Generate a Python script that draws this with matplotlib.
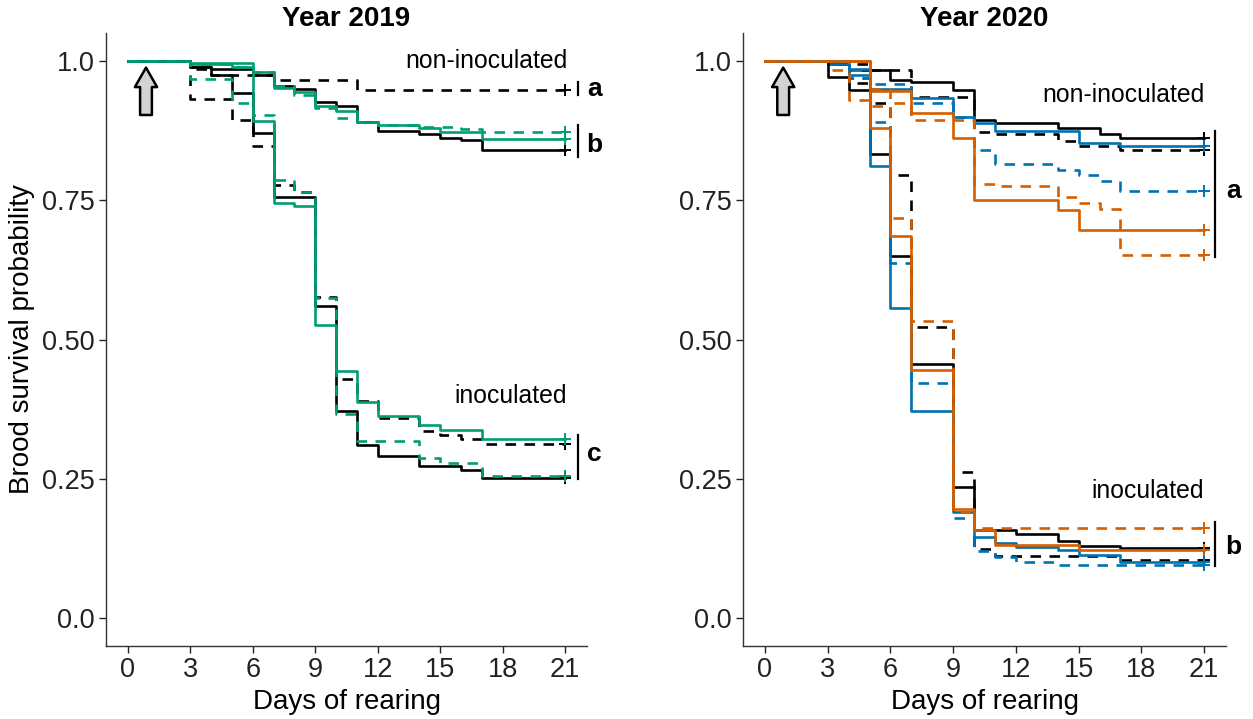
import matplotlib
matplotlib.use("Agg")
from matplotlib import pyplot as plt

plt.rcParams['font.family'] = ['Liberation Sans', 'DejaVu Sans']

# cores dos grupos
BLACK = '#000000'
GREEN = '#009E73'
BLUE = '#0072B2'
ORANGE = '#D55E00'

#-Ano 2019---------------------------------------------------------------
# nao inoculados: (dia, sobrevivencia)
ni19_black = [(0, 1.0), (3, 0.99), (4, 0.985), (6, 0.975), (7, 0.955), (8, 0.95), (9, 0.926),
              (10, 0.92), (11, 0.891), (12, 0.874), (14, 0.868), (15, 0.862), (16, 0.858),
              (17, 0.84), (21, 0.84)]
ni19_black_d = [(0, 1.0), (3, 0.985), (4, 0.975), (7, 0.966), (11, 0.947), (21, 0.947)]
ni19_green = [(0, 1.0), (3, 0.995), (5, 0.99), (6, 0.98), (7, 0.952), (8, 0.945), (9, 0.92),
              (10, 0.91), (11, 0.89), (12, 0.885), (14, 0.88), (15, 0.872), (17, 0.86), (21, 0.86)]
ni19_green_d = [(0, 1.0), (3, 0.995), (5, 0.99), (6, 0.98), (7, 0.955), (8, 0.938), (9, 0.915),
                (10, 0.897), (11, 0.89), (12, 0.885), (14, 0.882), (16, 0.878), (17, 0.872), (21, 0.872)]
# inoculados
in19_black = [(0, 1.0), (3, 0.99), (4, 0.975), (5, 0.942), (6, 0.87), (7, 0.755), (9, 0.56),
              (10, 0.372), (11, 0.311), (12, 0.291), (14, 0.273), (16, 0.265), (17, 0.251), (21, 0.251)]
in19_black_d = [(0, 1.0), (3, 0.932), (5, 0.894), (6, 0.847), (7, 0.778), (8, 0.765), (9, 0.577),
                (10, 0.43), (11, 0.39), (12, 0.36), (14, 0.335), (15, 0.328), (16, 0.321),
                (17, 0.313), (21, 0.313)]
in19_green = [(0, 1.0), (3, 0.997), (6, 0.893), (7, 0.745), (8, 0.739), (9, 0.527), (10, 0.444),
              (11, 0.388), (12, 0.362), (14, 0.347), (15, 0.337), (17, 0.322), (21, 0.322)]
in19_green_d = [(0, 1.0), (3, 0.968), (5, 0.925), (6, 0.903), (7, 0.787), (8, 0.764), (9, 0.575),
                (10, 0.367), (11, 0.318), (14, 0.287), (15, 0.279), (17, 0.256), (21, 0.256)]

#-Ano 2020---------------------------------------------------------------
ni20_black = [(0, 1.0), (3, 0.995), (4, 0.983), (6, 0.966), (7, 0.962), (9, 0.948), (10, 0.894),
              (11, 0.888), (14, 0.879), (16, 0.868), (17, 0.862), (21, 0.862)]
ni20_black_d = [(0, 1.0), (3, 0.995), (5, 0.983), (7, 0.935), (10, 0.872), (11, 0.868),
                (14, 0.856), (15, 0.847), (17, 0.84), (21, 0.84)]
ni20_blue = [(0, 1.0), (3, 0.995), (4, 0.975), (5, 0.95), (7, 0.934), (9, 0.9), (10, 0.888),
             (11, 0.875), (15, 0.852), (17, 0.848), (21, 0.848)]
ni20_blue_d = [(0, 1.0), (4, 0.97), (5, 0.958), (7, 0.924), (9, 0.9), (10, 0.841), (11, 0.815),
               (14, 0.805), (15, 0.796), (16, 0.784), (17, 0.766), (21, 0.766)]
ni20_orange = [(0, 1.0), (5, 0.946), (7, 0.907), (9, 0.862), (10, 0.75), (14, 0.732),
               (15, 0.696), (21, 0.696)]
ni20_orange_d = [(0, 1.0), (3, 0.984), (5, 0.95), (6, 0.924), (7, 0.894), (10, 0.78),
                 (11, 0.775), (14, 0.755), (15, 0.745), (16, 0.735), (17, 0.652), (21, 0.652)]
in20_black = [(0, 1.0), (3, 0.971), (4, 0.948), (5, 0.833), (6, 0.65), (7, 0.457), (9, 0.235),
              (10, 0.158), (12, 0.151), (14, 0.139), (15, 0.129), (17, 0.126), (21, 0.126)]
in20_black_d = [(0, 1.0), (4, 0.96), (5, 0.925), (6, 0.796), (7, 0.523), (9, 0.262),
                (10, 0.124), (11, 0.112), (17, 0.104), (21, 0.104)]
in20_blue = [(0, 1.0), (4, 0.985), (5, 0.811), (6, 0.556), (7, 0.371), (9, 0.19), (10, 0.145),
             (11, 0.134), (12, 0.127), (14, 0.122), (15, 0.114), (17, 0.1), (21, 0.1)]
in20_blue_d = [(0, 1.0), (4, 0.97), (5, 0.89), (6, 0.638), (7, 0.422), (9, 0.18), (10, 0.121),
               (11, 0.109), (12, 0.1), (14, 0.096), (21, 0.096)]
in20_orange = [(0, 1.0), (5, 0.879), (6, 0.685), (7, 0.446), (9, 0.196), (10, 0.158),
               (11, 0.131), (15, 0.122), (21, 0.122)]
in20_orange_d = [(0, 1.0), (4, 0.93), (5, 0.92), (6, 0.718), (7, 0.533), (9, 0.19),
                 (10, 0.161), (21, 0.161)]

xticks = [0, 3, 6, 9, 12, 15, 18, 21]
yticks = [0.0, 0.25, 0.5, 0.75, 1.0]
ytick_labels = ['0.0', '0.25', '0.50', '0.75', '1.0']

DASH = (0, (4, 3.2))

fig = plt.figure(figsize=(12.53, 7.19), dpi=100)
ax1 = fig.add_axes([0.0846, 0.1015, 0.3839, 0.8525])
ax2 = fig.add_axes([0.5930, 0.1015, 0.3855, 0.8525])

paineis = [
    (ax1, 'Year 2019', [
        (ni19_black_d, BLACK, DASH), (ni19_black, BLACK, '-'),
        (ni19_green_d, GREEN, DASH), (ni19_green, GREEN, '-'),
        (in19_black_d, BLACK, DASH), (in19_black, BLACK, '-'),
        (in19_green_d, GREEN, DASH), (in19_green, GREEN, '-'),
    ]),
    (ax2, 'Year 2020', [
        (ni20_black_d, BLACK, DASH), (ni20_black, BLACK, '-'),
        (ni20_blue_d, BLUE, DASH), (ni20_blue, BLUE, '-'),
        (ni20_orange_d, ORANGE, DASH), (ni20_orange, ORANGE, '-'),
        (in20_black_d, BLACK, DASH), (in20_black, BLACK, '-'),
        (in20_blue_d, BLUE, DASH), (in20_blue, BLUE, '-'),
        (in20_orange_d, ORANGE, DASH), (in20_orange, ORANGE, '-'),
    ]),
]

for ax, titulo, curvas in paineis:
    for pts, cor, estilo in curvas:
        xs = [p[0] for p in pts]
        ys = [p[1] for p in pts]
        ax.step(xs, ys, where='post', color=cor, ls=estilo, lw=1.9)
        # censura no fim
        ax.plot(xs[-1], ys[-1], marker='+', color=cor, ms=9, mew=1.4)
    ax.set_xlim(-1.05, 22.05)
    ax.set_ylim(-0.05, 1.05)
    ax.set_xticks(xticks)
    ax.set_yticks(yticks)
    ax.set_yticklabels(ytick_labels)
    for s in ['top', 'right']:
        ax.spines[s].set_visible(False)
    for s in ['left', 'bottom']:
        ax.spines[s].set_color('#333333')
        ax.spines[s].set_linewidth(1.0)
    ax.tick_params(labelsize=19.5, colors='#222222', length=5, width=1.0, pad=3)
    ax.set_title(titulo, fontsize=20, fontweight='bold', pad=5)
    ax.set_xlabel('Days of rearing', fontsize=20, labelpad=4)
    # seta de inoculacao
    ax.annotate('', xy=(0.87, 0.988), xytext=(0.87, 0.903),
                arrowprops=dict(arrowstyle='simple,head_width=1.6,head_length=1.4,tail_width=0.85',
                                fc='#d3d3d3', ec='black', lw=1.8, shrinkA=0, shrinkB=0,
                                mutation_scale=10))

ax1.set_ylabel('Brood survival probability', fontsize=20, labelpad=5)
# textos 2019
ax1.text(21.1, 1.0, 'non-inoculated', fontsize=17.8, ha='right', va='center')
ax1.text(21.1, 0.398, 'inoculated', fontsize=17.8, ha='right', va='center')
ax1.plot([21.6, 21.6], [0.939, 0.962], color='black', lw=1.6, clip_on=False)
ax1.text(22.4, 0.95, 'a', fontsize=19, fontweight='bold', ha='center', va='center')
ax1.plot([21.6, 21.6], [0.827, 0.885], color='black', lw=1.6, clip_on=False)
ax1.text(22.4, 0.85, 'b', fontsize=19, fontweight='bold', ha='center', va='center')
ax1.plot([21.6, 21.6], [0.249, 0.328], color='black', lw=1.6, clip_on=False)
ax1.text(22.4, 0.294, 'c', fontsize=19, fontweight='bold', ha='center', va='center')

# textos 2020
ax2.text(21.0, 0.939, 'non-inoculated', fontsize=17.8, ha='right', va='center')
ax2.text(21.0, 0.228, 'inoculated', fontsize=17.8, ha='right', va='center')
ax2.plot([21.5, 21.5], [0.649, 0.874], color='black', lw=1.6, clip_on=False)
ax2.text(22.4, 0.766, 'a', fontsize=19, fontweight='bold', ha='center', va='center')
ax2.plot([21.5, 21.5], [0.094, 0.173], color='black', lw=1.6, clip_on=False)
ax2.text(22.4, 0.128, 'b', fontsize=19, fontweight='bold', ha='center', va='center')

plt.savefig('out.png', dpi=100)
